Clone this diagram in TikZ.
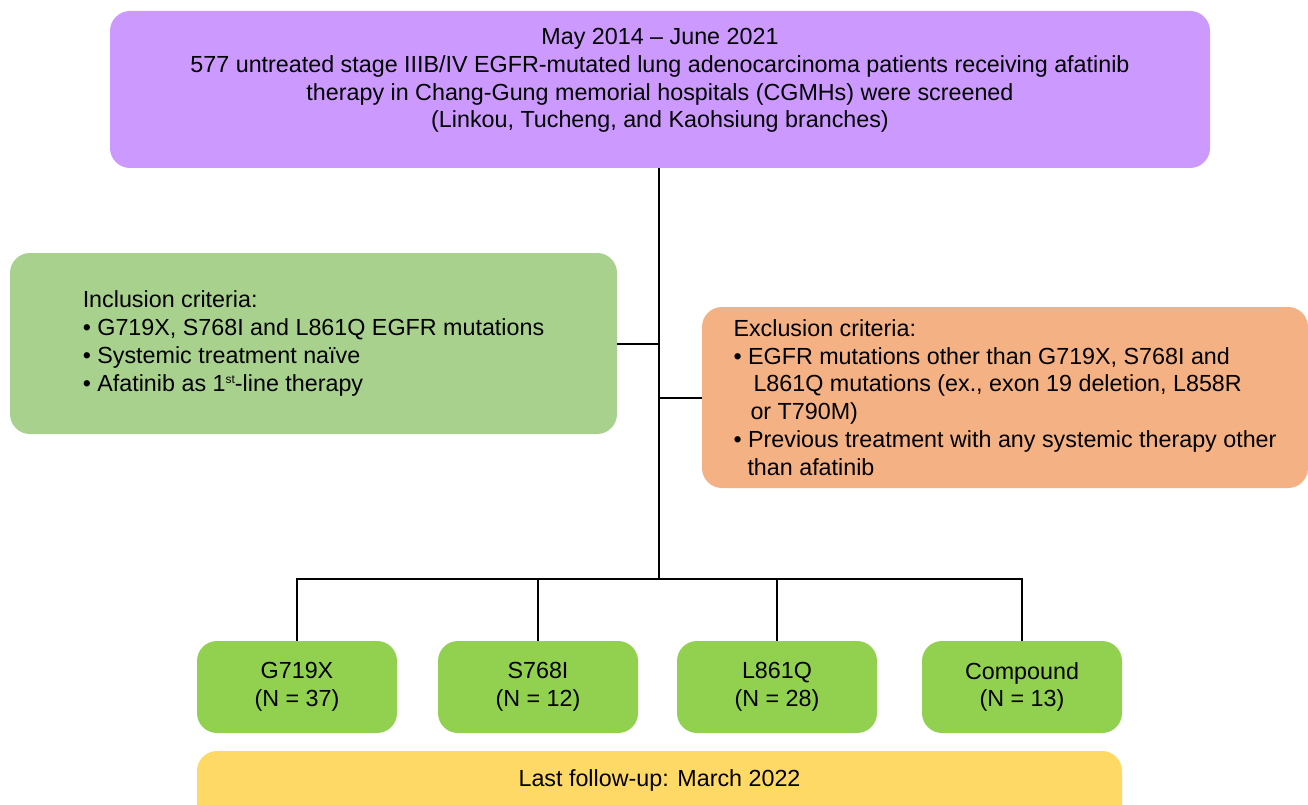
\documentclass[tikz,border=0pt]{standalone}
\usepackage{fontspec}
\setmainfont{Liberation Sans}
\definecolor{topc}{HTML}{CC99FF}
\definecolor{incc}{HTML}{A9D18E}
\definecolor{excc}{HTML}{F4B183}
\definecolor{grpc}{HTML}{92D050}
\definecolor{lastc}{HTML}{FFD966}
\begin{document}
\begin{tikzpicture}[x=1pt,y=-1pt,
  box/.style={rounded corners=20pt, draw=none, inner sep=0pt, font=\fontsize{23.3}{27.7}\selectfont},
  txt/.style={inner sep=0pt, font=\fontsize{23.3}{27.7}\selectfont},
  grp/.style={box, fill=grpc, minimum width=200pt, minimum height=92pt, align=center},
  conn/.style={line width=2pt, black}]
\clip (0,0) rectangle (1308,805);
\fill[white] (0,0) rectangle (1308,805);
% top
\node[box, fill=topc, minimum width=1100pt, minimum height=157pt] (top) at (660,89.5) {};
\node[txt, align=center] (toptext) at (660,80.5) {May 2014 – June 2021\\577 untreated stage IIIB/IV EGFR-mutated lung adenocarcinoma patients receiving afatinib\\therapy in Chang-Gung memorial hospitals (CGMHs) were screened\\(Linkou, Tucheng, and Kaohsiung branches)};
% inclusion
\node[box, fill=incc, minimum width=607pt, minimum height=181pt, align=left] (inc) at (313.5,343.5) {Inclusion criteria:\\• G719X, S768I and L861Q EGFR mutations\\• Systemic treatment naïve\\• Afatinib as 1\raisebox{8pt}{\fontsize{12}{12}\selectfont st}-line therapy};
% exclusion
\node[box, fill=excc, minimum width=606pt, minimum height=181pt, align=left] (exc) at (1005,397.5) {Exclusion criteria:\\• EGFR mutations other than G719X, S768I and\\\hspace*{20pt}L861Q mutations (ex., exon 19 deletion, L858R\\\hspace*{17pt}or T790M)\\• Previous treatment with any systemic therapy other\\\hspace*{14pt}than afatinib};
% groups
\node[grp] (g1) at (297,687) {G719X\\(N = 37)};
\node[grp] (g2) at (538,687) {S768I\\(N = 12)};
\node[grp] (g3) at (777,687) {L861Q\\(N = 28)};
\node[grp] (g4) at (1022,687) {Compound\\(N = 13)};
% last follow-up
\node[box, fill=lastc, minimum width=925pt, minimum height=100pt] (last) at (659.5,801) {};
\node[txt] (lasttext) at (659.5,780) {Last follow-up: March 2022};
% connectors
\coordinate (bar) at (659,579);
\draw[conn] (top.south -| bar) -- (bar);
\draw[conn] (inc.east) -- (inc.east -| bar);
\draw[conn] (exc.west) -- (exc.west -| bar);
\draw[conn] (g1.north) |- (bar) -| (g4.north);
\draw[conn] (g2.north) -- (g2.north |- bar);
\draw[conn] (g3.north) -- (g3.north |- bar);
\end{tikzpicture}
\end{document}
